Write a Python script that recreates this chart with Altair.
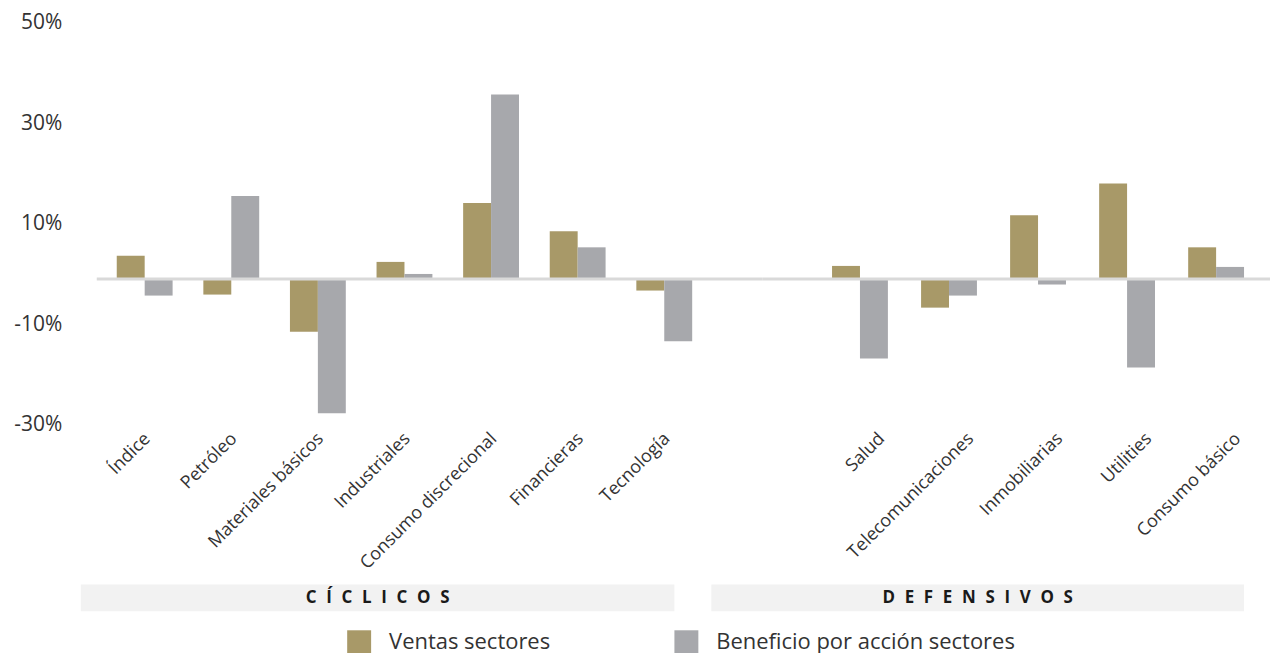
import altair as alt
import pandas as pd

# ---- data ----
series = ["Ventas sectores", "Beneficio por acción sectores"]
colors = ["#A89968", "#A7A8AC"]

ciclicos = ["Índice", "Petróleo", "Materiales básicos", "Industriales",
            "Consumo discrecional", "Financieras", "Tecnología"]
ventas_cic = [4.6, -3.1, -10.5, 3.4, 15.1, 9.5, -2.3]
bpa_cic = [-3.3, 16.5, -26.7, 1.0, 36.7, 6.3, -12.4]

defensivos = ["Salud", "Telecomunicaciones", "Inmobiliarias", "Utilities", "Consumo básico"]
ventas_def = [2.6, -5.7, 12.7, 19.0, 6.3]
bpa_def = [-15.8, -3.3, -1.1, -17.6, 2.4]

y_ticks = [-30, -10, 10, 30, 50]
group_labels = ["CÍCLICOS", "DEFENSIVOS"]

FONT = "Open Sans"
TXT = "#333333"
H = 403


def spaced(s):
    return "\u2007".join(list(s))


def panel(cats, ventas, bpa, width, pi, po, align, group, band, lab_off, show_y):
    df = pd.DataFrame({
        "sector": cats * 2,
        "serie": [series[0]] * len(cats) + [series[1]] * len(cats),
        "valor": ventas + bpa,
    })
    if show_y:
        yaxis = alt.Axis(values=y_ticks, labelExpr="datum.value + '%'", title=None,
                         domain=False, ticks=False, tickSize=0, grid=False,
                         labelFontSize=21, labelColor=TXT, labelPadding=35,
                         labelOffset=-5, labelFont=FONT)
    else:
        yaxis = None
    yscale = alt.Scale(domain=[-30, 50], nice=False, zero=False)
    bars = alt.Chart(df).mark_bar().encode(
        x=alt.X("sector:N", sort=cats,
                scale=alt.Scale(paddingInner=pi, paddingOuter=po, align=align, round=False),
                axis=alt.Axis(title=None, labelAngle=-45, labelAlign="right",
                              labelBaseline="middle", labelFontSize=18, labelColor=TXT,
                              labelPadding=6, labelOffset=lab_off, domain=False,
                              ticks=False, tickSize=0, labelOverlap=False,
                              labelLimit=400, labelFont=FONT)),
        xOffset=alt.XOffset("serie:N", sort=series,
                            scale=alt.Scale(paddingInner=0, paddingOuter=0)),
        y=alt.Y("valor:Q", scale=yscale, axis=yaxis),
        color=alt.Color("serie:N", sort=series,
                        scale=alt.Scale(domain=series, range=colors),
                        legend=alt.Legend(title=None, orient="none", direction="horizontal",
                                          legendX=251, legendY=604,
                                          symbolType="square", symbolSize=576,
                                          symbolStrokeWidth=0, labelFontSize=22,
                                          labelColor=TXT, labelFont=FONT, labelOffset=18,
                                          columnPadding=124, labelLimit=500)),
    )
    zero = alt.Chart(pd.DataFrame({"z": [0]})).mark_rule(
        color="#D9D9D9", strokeWidth=3).encode(y=alt.datum(0))
    gdf = pd.DataFrame({"g": [spaced(group)]})
    rect = alt.Chart(gdf).mark_rect(color="#F2F2F2").encode(
        x=alt.value(band[0]), x2=alt.value(band[1]),
        y=alt.value(558), y2=alt.value(585))
    text = alt.Chart(gdf).mark_text(font=FONT, fontWeight="bold", fontSize=17,
                                    color="#1a1a1a", baseline="middle", align="center").encode(
        text="g:N", x=alt.value((band[0] + band[1]) / 2), y=alt.value(572))
    return alt.layer(rect, text, bars, zero).properties(width=width, height=H)


p1 = panel(ciclicos, ventas_cic, bpa_cic, 667, 0.355, 0.5196, 0.222,
           group_labels[0], (-16, 579), 3, True)
p2 = panel(defensivos, ventas_def, bpa_def, 509, 0.3726, 0.538, 0.729,
           group_labels[1], (-51, 483), 22, False)

chart = alt.hconcat(p1, p2, spacing=0, bounds="flush").resolve_scale(
    x="independent", y="independent", color="shared", xOffset="independent"
).configure(
    font=FONT, padding={"left": 13, "top": 11, "right": 0, "bottom": 0},
    background="white"
).configure_view(stroke=None)

chart.save("out.html", embed_options={"renderer": "svg", "actions": False})
